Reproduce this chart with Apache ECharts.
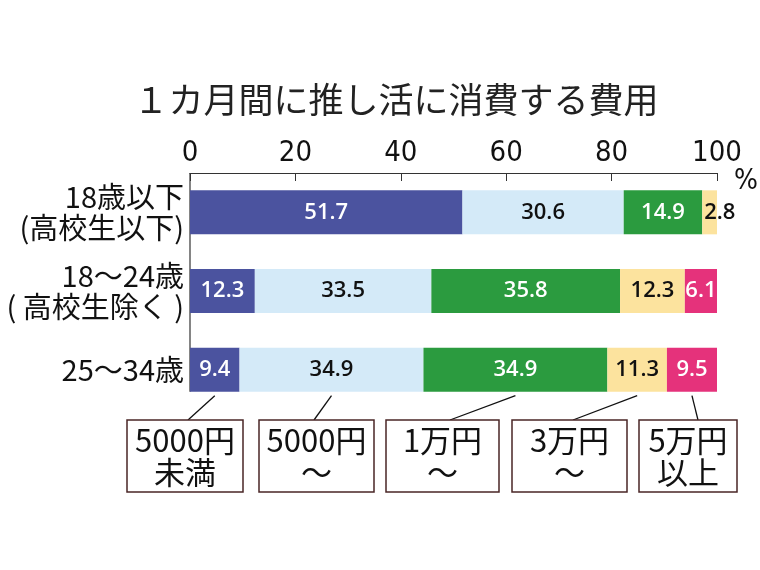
<!DOCTYPE html>
<html lang="ja">
<head>
    <meta charset="UTF-8">
    <title>1カ月間に推し活に消費する費用</title>
    <script src="https://cdn.jsdelivr.net/npm/echarts@6.0.0/dist/echarts.min.js"></script>
    <style>
        body { margin: 0; background: #fff; }
        #chart { width: 760px; height: 570px; }
    </style>
</head>
<body>
    <div id="chart"></div>
    <script>
        const ageGroups = ['18歳以下\n(高校生以下)', '18〜24歳\n( 高校生除く )', '25〜34歳'];
        const bandNames = ['5000円未満', '5000円〜', '1万円〜', '3万円〜', '5万円以上'];
        const under5000 = [51.7, 12.3, 9.4];
        const from5000 = [30.6, 33.5, 34.9];
        const from10000 = [14.9, 35.8, 34.9];
        const from30000 = [2.8, 12.3, 11.3];
        const over50000 = [0, 6.1, 9.5];
        const boxLabels = [['5000円', '未満'], ['5000円', '〜'], ['1万円', '〜'], ['3万円', '〜'], ['5万円', '以上']];
        const xTicks = [0, 20, 40, 60, 80, 100];

        const colors = ['#4b539f', '#d4eaf8', '#2b9b3f', '#fce39e', '#e5327b'];
        const labelColors = ['#fff', '#111', '#fff', '#111', '#fff'];
        const seriesValues = [under5000, from5000, from10000, from30000, over50000];

        const cjk = '"Noto Sans CJK JP", sans-serif';
        const num = '"Open Sans", "Noto Sans", sans-serif';
        const narrow = '"Liberation Sans Narrow", "DejaVu Sans Condensed", "Noto Sans", sans-serif';

        const chart = echarts.init(document.getElementById('chart'));

        const series = seriesValues.map((vals, i) => ({
            name: bandNames[i],
            type: 'bar',
            stack: 'total',
            barWidth: 44,
            itemStyle: { color: colors[i] },
            label: {
                show: true,
                position: 'inside',
                color: labelColors[i],
                fontFamily: num,
                fontWeight: 600,
                fontSize: 22,
                formatter: p => (p.value > 0 ? p.value.toFixed(1) : '')
            },
            data: vals.map(v => (v === 2.8 && i === 3)
                ? { value: v, label: { position: 'insideLeft', distance: 2 } }
                : v)
        }));

        chart.setOption({
            animation: false,
            grid: { left: 190, right: 43, top: 173, height: 236 },
            xAxis: {
                type: 'value',
                position: 'top',
                min: 0,
                max: 100,
                interval: 20,
                axisLine: { show: true, lineStyle: { color: '#333', width: 1.2 } },
                axisTick: { show: true, inside: true, length: 8, lineStyle: { color: '#333' } },
                axisLabel: { color: '#111', fontFamily: narrow, fontSize: 29, margin: 5,
                    formatter: v => (xTicks.includes(v) ? String(v) : '') },
                splitLine: { show: false }
            },
            yAxis: {
                type: 'category',
                inverse: true,
                data: ageGroups,
                axisLine: { show: false },
                axisTick: { show: false },
                axisLabel: { color: '#111', fontFamily: cjk, fontSize: 29, lineHeight: 31, margin: 6, align: 'right' }
            },
            series: series
        });

        // leader lines from the last row's segments to the legend boxes
        const lastRow = ageGroups[ageGroups.length - 1];
        const boxes = [[127, 116], [259, 115], [386, 113], [512, 115], [639, 98]];
        const lineEnds = [188, 314, 450, 573, 698];
        const boxTop = 420, boxH = 72;

        const graphics = [];
        // vertical axis line down to the bottom of the last bar
        const yTop = chart.convertToPixel({ gridIndex: 0 }, [0, ageGroups[0]]);
        const yBottom = chart.convertToPixel({ gridIndex: 0 }, [0, lastRow]);
        graphics.push({
            type: 'line',
            shape: { x1: yTop[0], y1: 173, x2: yBottom[0], y2: yBottom[1] + 22 },
            style: { stroke: '#333', lineWidth: 1.2 }
        });

        let acc = 0;
        seriesValues.forEach((vals, i) => {
            const v = vals[vals.length - 1];
            const mid = acc + v / 2;
            acc += v;
            const p = chart.convertToPixel({ gridIndex: 0 }, [mid, lastRow]);
            graphics.push({
                type: 'line',
                shape: { x1: p[0], y1: p[1] + 26, x2: lineEnds[i], y2: boxTop },
                style: { stroke: '#111', lineWidth: 1.3 }
            });
            const [bx, bw] = boxes[i];
            graphics.push({
                type: 'rect',
                shape: { x: bx, y: boxTop, width: bw, height: boxH },
                style: { fill: '#fff', stroke: '#4a2626', lineWidth: 1.5 }
            });
            boxLabels[i].forEach((t, k) => {
                graphics.push({
                    type: 'text',
                    style: {
                        text: t,
                        x: bx + bw / 2,
                        y: boxTop + 20 + k * 32,
                        textAlign: 'center',
                        textVerticalAlign: 'middle',
                        fill: '#111',
                        font: '31px ' + cjk
                    }
                });
            });
        });

        graphics.push({
            type: 'text',
            style: { text: '%', x: 746, y: 182, textAlign: 'center', textVerticalAlign: 'middle',
                fill: '#111', font: '28px ' + narrow }
        });
        graphics.push({
            type: 'text',
            style: { text: '１カ月間に推し活に消費する費用', x: 396, y: 100, textAlign: 'center',
                textVerticalAlign: 'middle', fill: '#222', font: '35px ' + cjk }
        });

        chart.setOption({ graphic: graphics });
    </script>
</body>
</html>
